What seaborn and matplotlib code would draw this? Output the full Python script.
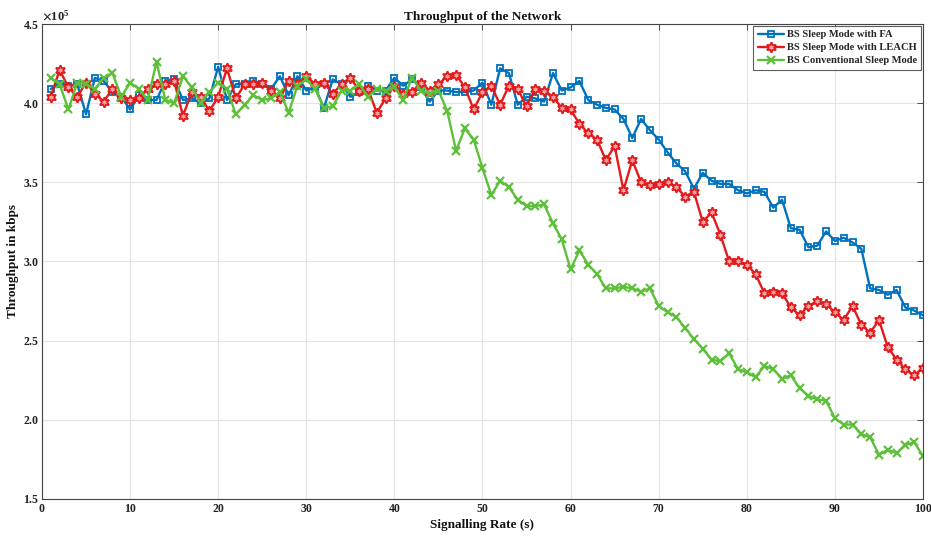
import numpy as np
import pandas as pd
import matplotlib
matplotlib.use("Agg")
import matplotlib.pyplot as plt
import seaborn as sns
from matplotlib.ticker import ScalarFormatter, MultipleLocator

signalling_rate = list(range(1, 101))

# Throughput values in units of 1e5 kbps
fa = [4.09, 4.12, 4.11, 4.12, 3.93, 4.16, 4.14, 4.07, 4.04, 3.96,
      4.05, 4.02, 4.02, 4.14, 4.15, 4.02, 4.03, 4.00, 4.03, 4.23,
      4.02, 4.12, 4.12, 4.14, 4.12, 4.09, 4.17, 4.05, 4.17, 4.08,
      4.10, 3.97, 4.15, 4.12, 4.04, 4.07, 4.11, 4.08, 4.08, 4.16,
      4.11, 4.15, 4.10, 4.01, 4.08, 4.08, 4.07, 4.07, 4.08, 4.13,
      3.99, 4.22, 4.19, 3.99, 4.04, 4.03, 4.01, 4.19, 4.08, 4.10,
      4.14, 4.02, 3.99, 3.97, 3.96, 3.90, 3.78, 3.90, 3.83, 3.77,
      3.69, 3.62, 3.57, 3.46, 3.56, 3.51, 3.49, 3.49, 3.45, 3.43,
      3.45, 3.44, 3.34, 3.39, 3.21, 3.20, 3.09, 3.10, 3.19, 3.13,
      3.15, 3.12, 3.08, 2.83, 2.82, 2.79, 2.82, 2.71, 2.69, 2.66]

leach = [4.04, 4.21, 4.10, 4.04, 4.13, 4.06, 4.01, 4.09, 4.03, 4.02,
         4.03, 4.09, 4.12, 4.12, 4.14, 3.92, 4.07, 4.04, 3.95, 4.04,
         4.22, 4.03, 4.12, 4.12, 4.13, 4.08, 4.03, 4.14, 4.12, 4.17,
         4.12, 4.13, 4.06, 4.12, 4.16, 4.08, 4.09, 3.94, 4.03, 4.11,
         4.06, 4.07, 4.13, 4.08, 4.12, 4.17, 4.18, 4.10, 3.96, 4.07,
         4.11, 3.99, 4.11, 4.09, 3.98, 4.09, 4.08, 4.04, 3.97, 3.96,
         3.87, 3.81, 3.77, 3.64, 3.73, 3.45, 3.64, 3.50, 3.48, 3.49,
         3.50, 3.47, 3.41, 3.44, 3.25, 3.31, 3.17, 3.00, 3.00, 2.98,
         2.92, 2.80, 2.81, 2.80, 2.71, 2.66, 2.72, 2.75, 2.73, 2.68,
         2.63, 2.72, 2.60, 2.55, 2.63, 2.46, 2.38, 2.32, 2.28, 2.33]

conventional = [4.16, 4.12, 3.96, 4.13, 4.12, 4.09, 4.16, 4.19, 4.04, 4.13,
                4.09, 4.02, 4.26, 4.02, 4.00, 4.17, 4.10, 4.00, 4.07, 4.13,
                4.09, 3.93, 3.99, 4.05, 4.02, 4.03, 4.07, 3.94, 4.11, 4.15,
                4.09, 3.97, 3.98, 4.08, 4.08, 4.12, 4.04, 4.09, 4.08, 4.10,
                4.02, 4.16, 4.08, 4.06, 4.08, 3.95, 3.70, 3.84, 3.77, 3.59,
                3.42, 3.51, 3.47, 3.39, 3.35, 3.35, 3.36, 3.24, 3.14, 2.95,
                3.07, 2.98, 2.92, 2.83, 2.83, 2.84, 2.83, 2.81, 2.83, 2.72,
                2.68, 2.65, 2.58, 2.51, 2.45, 2.38, 2.37, 2.42, 2.32, 2.30,
                2.27, 2.34, 2.32, 2.26, 2.28, 2.20, 2.15, 2.13, 2.12, 2.01,
                1.97, 1.97, 1.91, 1.89, 1.78, 1.81, 1.79, 1.84, 1.86, 1.77]

series_names = ["BS Sleep Mode with FA", "BS Sleep Mode with LEACH",
                "BS Conventional Sleep Mode"]
scale = 1e5

sns.set_theme(style="white")
plt.rcParams['font.family'] = ['Liberation Serif', 'DejaVu Serif']
plt.rcParams['font.weight'] = 'bold'
plt.rcParams['mathtext.fontset'] = 'stix'

fig = plt.figure(figsize=(9.31, 5.37), dpi=100)
ax = fig.add_axes([0.0451, 0.0708, 0.9463, 0.8845])

styles = [
    dict(color="#0072BD", marker="s", mfc="none", mec="#0072BD", ms=5, mew=1.3),
    dict(color="#E31A1C", marker=(6, 1, 0), mfc="#F5A0A0", mec="#E31A1C", ms=7.5, mew=1.3),
    dict(color="#5DBF3A", marker="x", mfc="#5DBF3A", mec="#5DBF3A", ms=5.5, mew=1.6),
]

for name, vals, st in zip(series_names, [fa, leach, conventional], styles):
    df = pd.DataFrame({"x": signalling_rate, "y": np.array(vals) * scale})
    sns.lineplot(data=df, x="x", y="y", ax=ax, label=name, color=st["color"],
                 marker=st["marker"], markerfacecolor=st["mfc"],
                 markeredgecolor=st["mec"], markersize=st["ms"],
                 markeredgewidth=st["mew"], linewidth=1.7, errorbar=None)

ax.set_xlim(0, 100)
ax.set_ylim(1.5e5, 4.5e5)
ax.xaxis.set_major_locator(MultipleLocator(10))
ax.yaxis.set_major_locator(MultipleLocator(0.5e5))
fmt = ScalarFormatter(useMathText=True)
fmt.set_powerlimits((0, 0))
ax.yaxis.set_major_formatter(fmt)
ax.yaxis.get_offset_text().set_fontsize(9)
ax.yaxis.get_offset_text().set_fontweight('bold')

ax.grid(True, color="#e4e4e4", linewidth=0.8)
ax.tick_params(direction="in", length=4, width=0.6, colors="#333333",
               labelsize=8.5, top=True, right=True, labelcolor="#222222", pad=3)
ax.tick_params(axis="y", pad=2)
for lab in ax.get_xticklabels() + ax.get_yticklabels():
    lab.set_fontweight('bold')
for sp in ax.spines.values():
    sp.set_color("#444444")
    sp.set_linewidth(0.8)

ax.set_title("Throughput of the Network", fontsize=9.5, fontweight="bold", pad=3,
             color="#111111")
ax.set_xlabel("Signalling Rate (s)", fontsize=9.5, fontweight="bold", labelpad=3,
              color="#111111")
ax.set_ylabel("Throughput in kbps", fontsize=9.5, fontweight="bold", labelpad=3,
              color="#111111")

leg = ax.legend(loc="upper right", fontsize=7.6, frameon=True, fancybox=False,
                borderpad=0.4, labelspacing=0.35, handlelength=2.5,
                handletextpad=0.3, borderaxespad=0.15)
leg.get_frame().set_edgecolor("#333333")
leg.get_frame().set_linewidth(0.8)
for t in leg.get_texts():
    t.set_fontweight('bold')

fig.savefig("out.png", dpi=100)
